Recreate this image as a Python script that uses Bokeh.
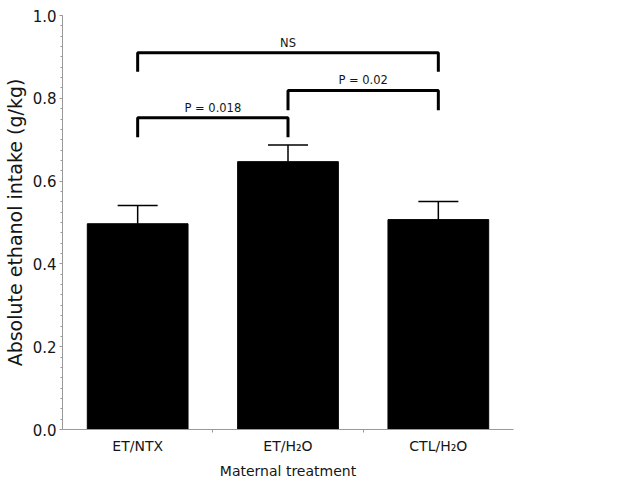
from bokeh.plotting import figure
from bokeh.models import (Range1d, FixedTicker, SingleIntervalTicker, CustomJSTickFormatter,
                          PrintfTickFormatter, Whisker, TeeHead, ColumnDataSource)
from bokeh.core.properties import value
from bokeh.embed import file_html
from bokeh.resources import INLINE

# ---- data ----
groups = ["ET/NTX", "ET/H₂O", "CTL/H₂O"]
means = [0.497, 0.647, 0.507]
sems = [0.044, 0.040, 0.044]
y_ticks = [0.0, 0.2, 0.4, 0.6, 0.8, 1.0]

bracket_left = [0, 1, 0]
bracket_right = [1, 2, 2]
bracket_top = [0.753, 0.819, 0.910]
bracket_drop = [0.047, 0.048, 0.046]
bracket_labels = ["P = 0.018", "P = 0.02", "NS"]

FONT = "DejaVu Sans"
TXT = "#151515"
AX = "#999999"

x_centers = [i + 0.5 for i in range(len(groups))]

p = figure(width=629, height=486, output_backend="svg", toolbar_location=None,
           x_range=Range1d(0, len(groups)), y_range=Range1d(0, 1.0),
           min_border_left=62, min_border_right=116, min_border_top=15, min_border_bottom=57)
p.outline_line_color = None
p.xgrid.visible = False
p.ygrid.visible = False
p.background_fill_color = "white"
p.border_fill_color = "white"

bar_src = ColumnDataSource(dict(x=x_centers, top=means,
                                upper=[m + s for m, s in zip(means, sems)], lower=means))
p.vbar(x="x", top="top", width=0.67, bottom=0, source=bar_src,
       fill_color="black", line_color="black")

w = Whisker(base="x", upper="upper", lower="lower", source=bar_src, line_color="black",
            line_width=1.5, upper_head=TeeHead(size=40, line_color="black", line_width=1.5),
            lower_head=None)
p.add_layout(w)

# brackets
xs, ys, lx, ly = [], [], [], []
for l, r, t, d in zip(bracket_left, bracket_right, bracket_top, bracket_drop):
    xl, xr = x_centers[l], x_centers[r]
    xs.append([xl, xl, xr, xr])
    ys.append([t - d, t, t, t - d])
    lx.append((xl + xr) / 2)
    ly.append(t)
p.multi_line(xs=xs, ys=ys, line_color="black", line_width=3)
p.text(x=lx, y=ly, text=bracket_labels, text_align="center", text_baseline="bottom",
       y_offset=-3, text_font=value(FONT), text_font_size="11.5px", text_color=TXT)

# axes
xa = p.xaxis[0]
xa.ticker = FixedTicker(ticks=x_centers, minor_ticks=[1, 2])
xa.formatter = CustomJSTickFormatter(args=dict(labels=groups), code="return labels[Math.floor(tick)];")
xa.axis_line_color = AX
xa.major_tick_line_color = None
xa.major_tick_out = 0
xa.major_tick_in = 0
xa.minor_tick_line_color = AX
xa.minor_tick_out = 3
xa.minor_tick_in = 0
xa.major_label_text_font = FONT
xa.major_label_text_font_size = "14px"
xa.major_label_text_color = TXT
xa.major_label_standoff = 5
xa.axis_label = "Maternal treatment"
xa.axis_label_text_font = FONT
xa.axis_label_text_font_style = "normal"
xa.axis_label_text_font_size = "14px"
xa.axis_label_text_color = TXT
xa.axis_label_standoff = 6

ya = p.yaxis[0]
ya.ticker = SingleIntervalTicker(interval=y_ticks[1] - y_ticks[0], num_minor_ticks=8)
ya.formatter = PrintfTickFormatter(format="%.1f")
ya.axis_line_color = AX
ya.major_tick_line_color = AX
ya.major_tick_out = 3
ya.major_tick_in = 0
ya.minor_tick_line_color = AX
ya.minor_tick_out = 2
ya.minor_tick_in = 0
ya.major_label_text_font = FONT
ya.major_label_text_font_size = "15px"
ya.major_label_text_color = TXT
ya.major_label_standoff = 3
ya.axis_label = "Absolute ethanol intake (g/kg)"
ya.axis_label_text_font = FONT
ya.axis_label_text_font_style = "normal"
ya.axis_label_text_font_size = "19px"
ya.axis_label_text_color = TXT
ya.axis_label_standoff = 4

open("out.html", "w").write(file_html(p, INLINE))
